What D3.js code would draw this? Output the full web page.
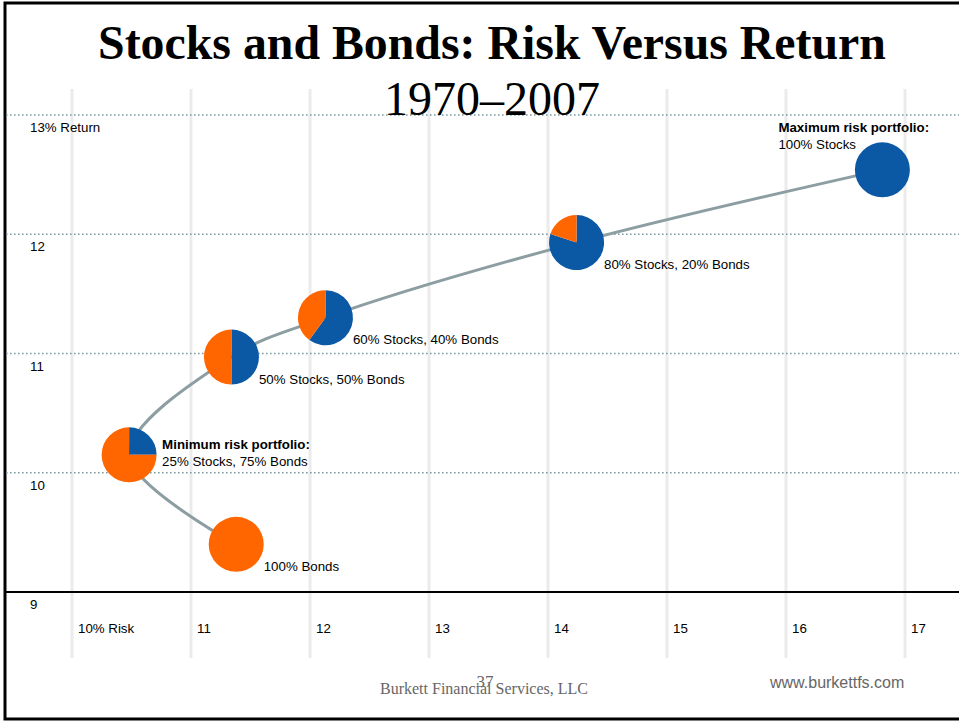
<!DOCTYPE html>
<html>
<head>
<meta charset="utf-8">
<script src="https://cdn.jsdelivr.net/npm/d3@7"></script>
<style>
  html, body { margin: 0; padding: 0; background: #fff; }
  svg { display: block; }
</style>
</head>
<body>
<svg id="chart" width="959" height="722"></svg>
<script>
// ---- Data ----
const portfolios = ["100% Bonds", "Minimum risk", "50/50", "60/40", "80/20", "100% Stocks"];
const riskValues = [11.38, 10.48, 11.34, 12.13, 14.24, 16.81];
const returnValues = [9.40, 10.15, 10.97, 11.30, 11.93, 12.54];
const stockShares = [0, 25, 50, 60, 80, 100];
const bondShares = [100, 75, 50, 40, 20, 0];
const labelTitles = ["", "Minimum risk portfolio:", "", "", "", "Maximum risk portfolio:"];
const labelTexts = ["100% Bonds", "25% Stocks, 75% Bonds", "50% Stocks, 50% Bonds", "60% Stocks, 40% Bonds", "80% Stocks, 20% Bonds", "100% Stocks"];
const xTicks = [10, 11, 12, 13, 14, 15, 16, 17];
const xTickLabels = ["10% Risk", "11", "12", "13", "14", "15", "16", "17"];
const yTicks = [9, 10, 11, 12, 13];
const yTickLabels = ["9", "10", "11", "12", "13% Return"];

const titleText = "Stocks and Bonds: Risk Versus Return";
const subtitleText = "1970–2007";

const data = portfolios.map((p, i) => ({
  name: p, risk: riskValues[i], ret: returnValues[i],
  stocks: stockShares[i], bonds: bondShares[i],
  title: labelTitles[i], text: labelTexts[i]
}));

// ---- Setup ----
const svg = d3.select("#chart");
const W = 959, H = 722;
const x = d3.scaleLinear().domain([10, 17]).range([72, 905]);
const y = d3.scaleLinear().domain([9, 13]).range([592, 115]);
const BLUE = "#0B58A5", ORANGE = "#FF6600";
const R = 27.5;
const FS = 13.3;

// border
svg.append("rect").attr("x", 5).attr("y", 3).attr("width", 980).attr("height", 716)
  .attr("fill", "none").attr("stroke", "#000").attr("stroke-width", 3);

// vertical gridlines
svg.append("g").selectAll("line").data(xTicks).join("line")
  .attr("x1", d => x(d)).attr("x2", d => x(d))
  .attr("y1", 89).attr("y2", 658)
  .attr("stroke", "#ebebeb").attr("stroke-width", 3);

// horizontal lines
svg.append("g").selectAll("line").data(yTicks).join("line")
  .attr("x1", 6).attr("x2", W)
  .attr("y1", d => y(d)).attr("y2", d => y(d))
  .attr("stroke", d => d === 9 ? "#000" : "#7f9ba1")
  .attr("stroke-width", d => d === 9 ? 2 : 1.6)
  .attr("stroke-dasharray", d => d === 9 ? null : "1.6,2.4");

// axis labels
const labelFont = "'Liberation Sans', Arial, sans-serif";
svg.append("g").selectAll("text").data(xTicks).join("text")
  .attr("x", d => x(d) + 6).attr("y", 633)
  .attr("font-family", labelFont).attr("font-size", FS).attr("fill", "#000")
  .text((d, i) => xTickLabels[i]);
svg.append("g").selectAll("text").data(yTicks).join("text")
  .attr("x", 30).attr("y", d => y(d) + 17)
  .attr("font-family", labelFont).attr("font-size", FS).attr("fill", "#000")
  .text((d, i) => yTickLabels[i]);

// title
function fitText(sel, targetWidth) {
  const node = sel.node();
  const fs = parseFloat(sel.attr("font-size"));
  const w = node.getComputedTextLength();
  if (w > 0) sel.attr("font-size", fs * targetWidth / w);
}
const title = svg.append("text").attr("x", 492).attr("y", 59)
  .attr("text-anchor", "middle")
  .attr("font-family", "'Liberation Serif', 'Times New Roman', serif")
  .attr("font-weight", "bold").attr("font-size", 46).attr("fill", "#000")
  .text(titleText);
fitText(title, 788);
const sub = svg.append("text").attr("x", 492).attr("y", 115)
  .attr("text-anchor", "middle")
  .attr("font-family", "'Liberation Serif', 'Times New Roman', serif")
  .attr("font-size", 46).attr("fill", "#000")
  .text(subtitleText);
fitText(sub, 216);

// curve
const line = d3.line().x(d => x(d.risk)).y(d => y(d.ret)).curve(d3.curveCatmullRom.alpha(0.5));
svg.append("path").datum(data).attr("d", line)
  .attr("fill", "none").attr("stroke", "#8c9ea2").attr("stroke-width", 3);

// pies
const pie = d3.pie().sort(null).value(d => d.v);
const arc = d3.arc().innerRadius(0).outerRadius(R);
const pies = svg.append("g").selectAll("g").data(data).join("g")
  .attr("transform", d => `translate(${x(d.risk)},${y(d.ret)})`);
pies.selectAll("path")
  .data(d => pie([{ k: "s", v: d.stocks }, { k: "b", v: d.bonds }]).filter(a => a.data.v > 0))
  .join("path")
  .attr("d", a => a.data.v >= 100 ? arc({ startAngle: 0, endAngle: 2 * Math.PI }) : arc(a))
  .attr("fill", a => a.data.k === "s" ? BLUE : ORANGE);

// labels
const lab = svg.append("g").attr("font-family", labelFont).attr("font-size", FS).attr("fill", "#000");
data.forEach((d, i) => {
  const cx = x(d.risk), cy = y(d.ret);
  if (d.title === "Minimum risk portfolio:") {
    lab.append("text").attr("x", cx + 33).attr("y", cy - 6).attr("font-weight", "bold").text(d.title);
    lab.append("text").attr("x", cx + 33).attr("y", cy + 11).text(d.text);
  } else if (d.title === "Maximum risk portfolio:") {
    lab.append("text").attr("x", cx - 104).attr("y", cy - 38).attr("font-weight", "bold").text(d.title);
    lab.append("text").attr("x", cx - 104).attr("y", cy - 21).text(d.text);
  } else {
    lab.append("text").attr("x", cx + 27.5).attr("y", cy + 26.5).text(d.text);
  }
});

// footer
svg.append("text").attr("x", 484).attr("y", 694).attr("text-anchor", "middle")
  .attr("font-family", "'Liberation Serif', 'Times New Roman', serif")
  .attr("font-size", 16).attr("fill", "#666").text("Burkett Financial Services, LLC");
svg.append("text").attr("x", 485).attr("y", 687).attr("text-anchor", "middle")
  .attr("font-family", "'Liberation Serif', 'Times New Roman', serif")
  .attr("font-size", 17).attr("fill", "#666").text("37");
svg.append("text").attr("x", 770).attr("y", 688)
  .attr("font-family", labelFont).attr("font-size", 16).attr("fill", "#666").text("www.burkettfs.com");
</script>
</body>
</html>
